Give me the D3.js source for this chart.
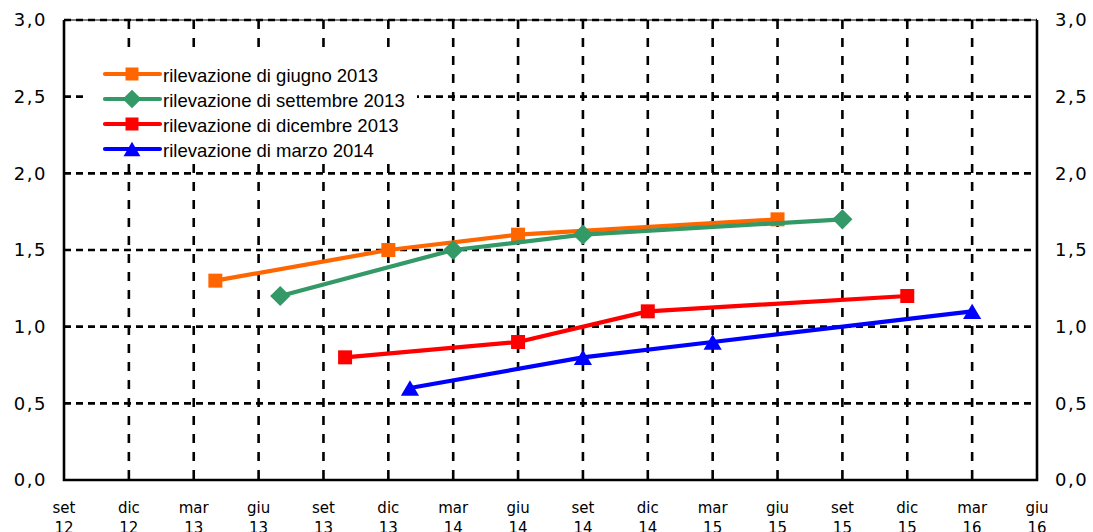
<!DOCTYPE html>
<html>
<head>
<meta charset="utf-8">
<script src="https://cdn.jsdelivr.net/npm/d3@7"></script>
<style>
  html, body { margin: 0; padding: 0; background: #fff; }
  svg { display: block; }
</style>
</head>
<body>
<svg id="chart" width="1093" height="532"></svg>
<script>
// Quarterly axis labels (month abbreviation, two-digit year)
const tickMonths = ["set","dic","mar","giu","set","dic","mar","giu","set","dic","mar","giu","set","dic","mar","giu"];
const tickYears  = ["12","12","13","13","13","13","14","14","14","14","15","15","15","15","16","16"];
const axisStart = "2012-09";

const yTicks = [0, 0.5, 1, 1.5, 2, 2.5, 3];

// Survey series: reference periods and values
const giugnoDates = ["2013-04", "2013-12", "2014-06", "2015-06"];
const giugnoValues = [1.3, 1.5, 1.6, 1.7];

const settembreDates = ["2013-07", "2014-03", "2014-09", "2015-09"];
const settembreValues = [1.2, 1.5, 1.6, 1.7];

const dicembreDates = ["2013-10", "2014-06", "2014-12", "2015-12"];
const dicembreValues = [0.8, 0.9, 1.1, 1.2];

const marzoDates = ["2014-01", "2014-09", "2015-03", "2016-03"];
const marzoValues = [0.6, 0.8, 0.9, 1.1];

const seriesNames = [
  "rilevazione di giugno 2013",
  "rilevazione di settembre 2013",
  "rilevazione di dicembre 2013",
  "rilevazione di marzo 2014"
];
const seriesColors = ["#FF6600", "#339966", "#FF0000", "#0000FF"];
const seriesMarkers = ["square", "diamond", "square", "triangle"];

// months elapsed since the first axis label
function monthIndex(s) {
  const [y, m] = s.split("-").map(Number);
  const [y0, m0] = axisStart.split("-").map(Number);
  return (y - y0) * 12 + (m - m0);
}

const series = [
  {dates: giugnoDates, values: giugnoValues},
  {dates: settembreDates, values: settembreValues},
  {dates: dicembreDates, values: dicembreValues},
  {dates: marzoDates, values: marzoValues}
].map((s, i) => ({
  name: seriesNames[i],
  color: seriesColors[i],
  marker: seriesMarkers[i],
  points: s.dates.map((d, j) => ({m: monthIndex(d), v: s.values[j]}))
}));

const svg = d3.select("#chart");
const plot = {left: 64, right: 1037, top: 20, bottom: 480};

const lastMonth = (tickMonths.length - 1) * 3;
const x = d3.scaleLinear().domain([0, lastMonth]).range([plot.left, plot.right]);
const y = d3.scaleLinear().domain([0, 3]).range([plot.bottom, plot.top]);

// grid
const grid = svg.append("g");
grid.selectAll("line.h")
  .data(yTicks.filter(t => t > 0))
  .join("line")
  .attr("x1", plot.left).attr("x2", plot.right)
  .attr("y1", d => y(d)).attr("y2", d => y(d))
  .attr("stroke", "#000").attr("stroke-width", 2.6)
  .attr("stroke-dasharray", "7,5");
grid.selectAll("line.v")
  .data(d3.range(3, lastMonth, 3))
  .join("line")
  .attr("x1", d => x(d)).attr("x2", d => x(d))
  .attr("y1", plot.top).attr("y2", plot.bottom)
  .attr("stroke", "#000").attr("stroke-width", 2.6)
  .attr("stroke-dasharray", "9,9");

// plot frame: left, bottom and right axes
svg.append("path")
  .attr("d", `M${plot.left},${plot.top}V${plot.bottom}H${plot.right}V${plot.top}`)
  .attr("fill", "none").attr("stroke", "#000").attr("stroke-width", 2.6);
svg.append("line")
  .attr("x1", plot.left).attr("x2", plot.right)
  .attr("y1", plot.top).attr("y2", plot.top)
  .attr("stroke", "#000").attr("stroke-width", 1.2);

// y tick labels on both sides
const fmt = d => d3.format(".1f")(d).replace(".", ",");
const yLabelStyle = sel => sel
  .attr("font-family", "'DejaVu Sans', Verdana, sans-serif")
  .attr("font-size", 18)
  .attr("letter-spacing", 1.5)
  .attr("fill", "#000")
  .attr("dy", "0.36em");
svg.append("g").selectAll("text")
  .data(yTicks).join("text")
  .attr("x", 47).attr("y", d => y(d))
  .attr("text-anchor", "end")
  .text(fmt)
  .call(yLabelStyle);
svg.append("g").selectAll("text")
  .data(yTicks).join("text")
  .attr("x", 1055).attr("y", d => y(d))
  .attr("text-anchor", "start")
  .text(fmt)
  .call(yLabelStyle);

// x tick labels (two lines)
const xl = svg.append("g").selectAll("text")
  .data(tickMonths.map((m, i) => ({m, yr: tickYears[i], idx: i * 3})))
  .join("text")
  .attr("text-anchor", "middle")
  .attr("font-family", "'DejaVu Sans', Verdana, sans-serif")
  .attr("font-size", 15)
  .attr("fill", "#000");
xl.append("tspan").attr("x", d => x(d.idx)).attr("y", 513).text(d => d.m);
xl.append("tspan").attr("x", d => x(d.idx)).attr("y", 533).text(d => d.yr);

// marker shapes
function markerPath(type, s) {
  if (type === "square") return `M${-s/2},${-s/2}h${s}v${s}h${-s}Z`;
  if (type === "diamond") { const r = s * 0.72; return `M0,${-r}L${r},0L0,${r}L${-r},0Z`; }
  if (type === "triangle") { const w = s * 0.65, h = s * 0.55; return `M0,${-h}L${w},${h}L${-w},${h}Z`; }
  return "";
}

const line = d3.line().x(d => x(d.m)).y(d => y(d.v));

const sg = svg.append("g").selectAll("g")
  .data(series).join("g");
sg.append("path")
  .attr("d", d => line(d.points))
  .attr("fill", "none")
  .attr("stroke", d => d.color)
  .attr("stroke-width", 4.2)
  .attr("stroke-linejoin", "round");
sg.each(function(s) {
  d3.select(this).selectAll("path.mk")
    .data(s.points).join("path")
    .attr("class", "mk")
    .attr("transform", d => `translate(${x(d.m)},${y(d.v)})`)
    .attr("d", markerPath(s.marker, 14))
    .attr("fill", s.color);
});

// legend on a white panel over the grid
const legend = svg.append("g");
legend.append("rect")
  .attr("x", 85).attr("y", 56)
  .attr("width", 332).attr("height", 102)
  .attr("fill", "#fff");
const lg = legend.selectAll("g").data(series).join("g")
  .attr("transform", (d, i) => `translate(0,${74 + i * 25})`);
lg.append("line")
  .attr("x1", 105).attr("x2", 160)
  .attr("stroke", d => d.color).attr("stroke-width", 4.2)
  .attr("stroke-linecap", "round");
lg.append("path")
  .attr("transform", "translate(132,0)")
  .attr("d", d => markerPath(d.marker, 13))
  .attr("fill", d => d.color);
lg.append("text")
  .attr("x", 163).attr("y", 8)
  .attr("font-family", "'Liberation Sans', Arial, sans-serif")
  .attr("font-size", 18.5)
  .attr("fill", "#000")
  .text(d => d.name);
</script>
</body>
</html>
